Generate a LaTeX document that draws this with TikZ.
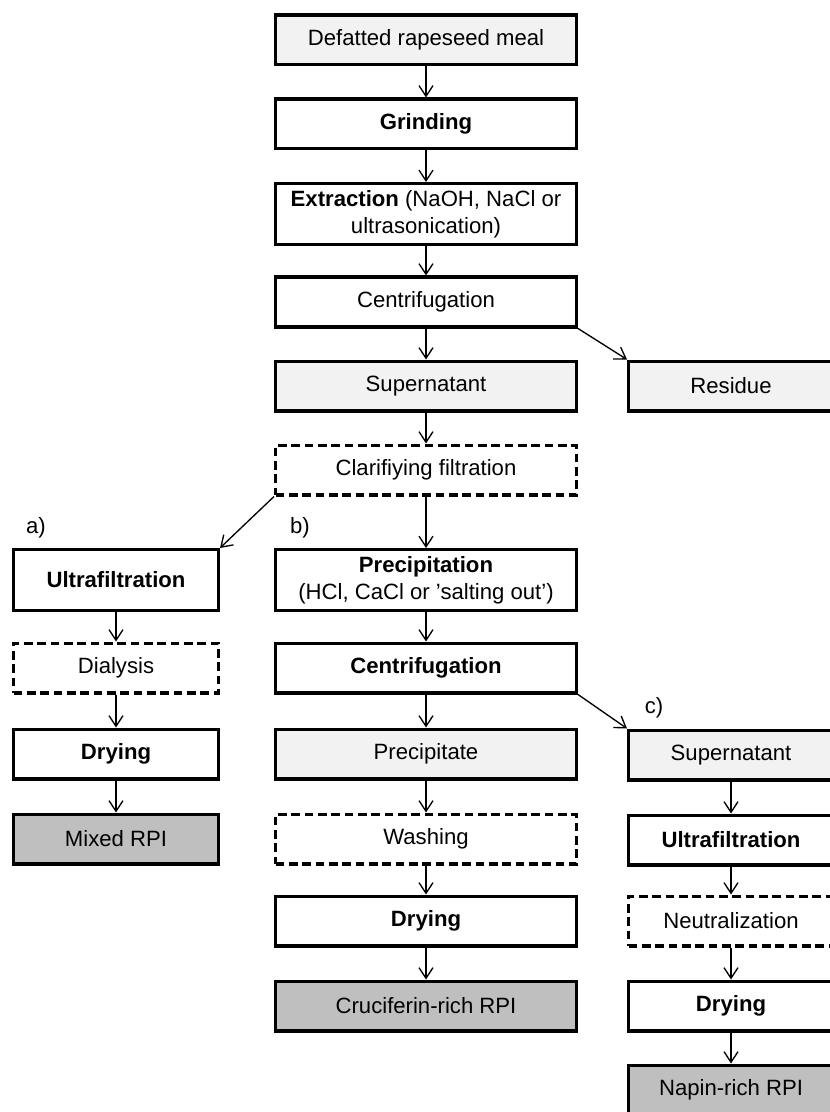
\documentclass[tikz,border=0pt]{standalone}
\usepackage{fontspec}
\setmainfont{Liberation Sans}
\usetikzlibrary{arrows.meta}

\tikzset{
  stepbox/.style={rectangle, draw, line width=2.5pt, minimum width=225.5pt, minimum height=37.25pt,
    align=center, inner sep=2pt, font=\fontsize{16.6}{20}\selectfont},
  narrowbox/.style={stepbox, minimum width=153.5pt},
  tallbox/.style={minimum height=45.5pt},
  optbox/.style={dash pattern=on 6.5pt off 3.5pt},
  lightbox/.style={fill=black!5},
  darkbox/.style={fill=black!25},
  flow/.style={-{Straight Barb[length=8pt,width=10.5pt]}, line width=1pt},
  tag/.style={inner sep=0pt, font=\fontsize{16.6}{20}\selectfont}
}

\begin{document}
\begin{tikzpicture}[x=0.75pt, y=-0.75pt]
    \useasboundingbox (0,0) rectangle (830,1112);

    \node[stepbox, lightbox] (meal) at (426,40) {Defatted rapeseed meal};
    \node[stepbox] (grinding) at (426,124) {\textbf{Grinding}};
    \node[stepbox, tallbox] (extraction) at (426,214) {\textbf{Extraction} (NaOH, NaCl or\\ultrasonication)};
    \node[stepbox] (centrif1) at (426,302) {Centrifugation};
    \node[stepbox, lightbox] (super1) at (426,386) {Supernatant};
    \node[narrowbox, lightbox] (residue) at (731,386) {Residue};
    \node[stepbox, optbox] (clarify) at (426,470) {Clarifiying filtration};

    \node[tag] (taga) at (36,528) {a)};
    \node[tag] (tagb) at (300,528) {b)};
    \node[tag] (tagc) at (654,708) {c)};

    \node[narrowbox, tallbox] (ultraA) at (116,580) {\textbf{Ultrafiltration}};
    \node[narrowbox, optbox] (dialysis) at (116,668) {Dialysis};
    \node[narrowbox] (dryingA) at (116,754) {\textbf{Drying}};
    \node[narrowbox, darkbox] (mixed) at (116,839) {Mixed RPI};

    \node[stepbox, tallbox] (precip) at (426,580) {\textbf{Precipitation}\\(HCl, CaCl or ’salting out’)};
    \node[stepbox] (centrif2) at (426,668) {\textbf{Centrifugation}};
    \node[stepbox, lightbox] (precipitate) at (426,754) {Precipitate};
    \node[stepbox, optbox] (washing) at (426,839) {Washing};
    \node[stepbox] (dryingB) at (426,921) {\textbf{Drying}};
    \node[stepbox, darkbox] (cruciferin) at (426,1006) {Cruciferin-rich RPI};

    \node[narrowbox, lightbox] (super2) at (731,755) {Supernatant};
    \node[narrowbox] (ultraC) at (731,840) {\textbf{Ultrafiltration}};
    \node[narrowbox, optbox] (neutral) at (731,921) {Neutralization};
    \node[narrowbox] (dryingC) at (731,1006) {\textbf{Drying}};
    \node[narrowbox, darkbox] (napin) at (731,1090) {Napin-rich RPI};

    \draw[flow] (meal) -- (grinding);
    \draw[flow] (grinding) -- (extraction);
    \draw[flow] (extraction) -- (centrif1);
    \draw[flow] (centrif1) -- (super1);
    \draw[flow] (centrif1.south east) -- (residue.north west);
    \draw[flow] (super1) -- (clarify);
    \draw[flow] (clarify.south west) -- (ultraA.north east);
    \draw[flow] (clarify) -- (precip);

    \draw[flow] (ultraA) -- (dialysis);
    \draw[flow] (dialysis) -- (dryingA);
    \draw[flow] (dryingA) -- (mixed);

    \draw[flow] (precip) -- (centrif2);
    \draw[flow] (centrif2) -- (precipitate);
    \draw[flow] (precipitate) -- (washing);
    \draw[flow] (washing) -- (dryingB);
    \draw[flow] (dryingB) -- (cruciferin);

    \draw[flow] (centrif2.south east) -- (super2.north west);
    \draw[flow] (super2) -- (ultraC);
    \draw[flow] (ultraC) -- (neutral);
    \draw[flow] (neutral) -- (dryingC);
    \draw[flow] (dryingC) -- (napin);
\end{tikzpicture}
\end{document}
